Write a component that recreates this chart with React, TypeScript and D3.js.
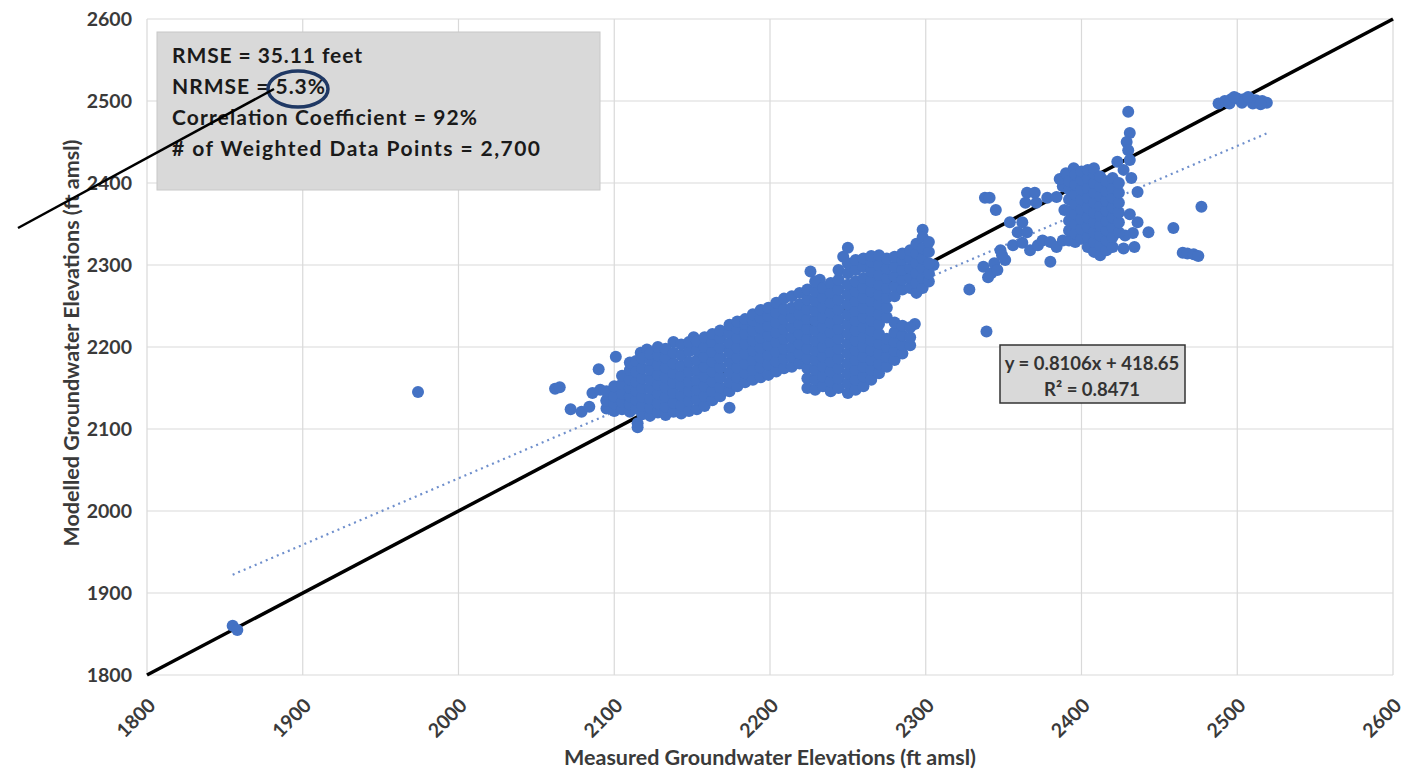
import React from "react";
import * as d3 from "d3";

// ---- data ----
const axisTicks = [1800, 1900, 2000, 2100, 2200, 2300, 2400, 2500, 2600];
const statLines = [
  "RMSE = 35.11 feet",
  "NRMSE = 5.3%",
  "Correlation Coefficient = 92%",
  "# of Weighted Data Points = 2,700",
];
const trendSlope = 0.8106;
const trendIntercept = 418.65;
const trendRange = [1855, 2520];
const equationLines = ["y = 0.8106x + 418.65", "R² = 0.8471"];

// isolated / sparse points [measured, modelled]
const outlierPoints: [number, number][] = [
  [1855, 1860], [1858, 1855], [1974, 2145],
  [2062, 2149], [2065, 2151], [2072, 2124], [2079, 2121], [2084, 2127],
  [2086, 2144], [2090, 2173], [2091, 2148], [2095, 2135], [2099, 2127],
  [2101, 2188], [2106, 2144], [2110, 2168], [2115, 2107], [2115, 2102],
  [2117, 2193], [2174, 2126], [2121, 2197], [2138, 2206], [2151, 2212],
  [2247, 2310], [2250, 2321], [2293, 2228], [2298, 2343], [2305, 2300],
  [2328, 2270], [2339, 2219], [2232, 2282], [2226, 2292],
];

// main band: each row is [measured, ...modelled values in that column]
const bandColumns: number[][] = [
  [2095, 2125, 2134, 2146],
  [2100, 2122, 2131, 2140, 2152],
  [2105, 2124, 2133, 2143, 2155, 2165],
  [2110, 2121, 2130, 2140, 2150, 2160, 2172, 2181],
  [2114, 2125, 2136, 2147, 2158, 2170, 2183],
  [2118, 2118, 2128, 2139, 2150, 2162, 2174, 2186],
  [2123, 2116, 2126, 2137, 2149, 2160, 2172, 2184, 2192],
  [2128, 2120, 2131, 2143, 2154, 2166, 2178, 2190, 2200],
  [2133, 2117, 2127, 2139, 2151, 2163, 2175, 2187, 2198],
  [2138, 2121, 2132, 2144, 2156, 2168, 2180, 2193],
  [2143, 2119, 2129, 2141, 2153, 2165, 2177, 2190, 2203],
  [2148, 2122, 2134, 2146, 2158, 2170, 2182, 2195, 2206],
  [2153, 2124, 2136, 2148, 2160, 2172, 2184, 2196, 2207],
  [2158, 2128, 2140, 2152, 2164, 2176, 2188, 2200, 2212],
  [2163, 2135, 2146, 2158, 2170, 2182, 2194, 2206, 2216],
  [2168, 2140, 2151, 2163, 2175, 2187, 2199, 2211, 2220],
  [2174, 2146, 2157, 2169, 2181, 2193, 2205, 2217, 2227],
  [2179, 2152, 2163, 2175, 2187, 2199, 2211, 2223, 2231],
  [2184, 2157, 2168, 2180, 2192, 2204, 2216, 2228, 2234],
  [2189, 2160, 2172, 2184, 2196, 2208, 2220, 2232, 2240],
  [2194, 2163, 2175, 2187, 2199, 2211, 2223, 2235, 2245],
  [2199, 2166, 2178, 2190, 2202, 2214, 2226, 2238, 2248],
  [2204, 2170, 2182, 2194, 2206, 2218, 2230, 2242, 2254],
  [2209, 2174, 2186, 2198, 2210, 2222, 2234, 2246, 2259],
  [2214, 2176, 2188, 2200, 2212, 2224, 2236, 2248, 2262],
  [2219, 2180, 2192, 2204, 2216, 2228, 2240, 2252, 2266],
  [2224, 2150, 2162, 2174, 2186, 2198, 2210, 2222, 2234, 2246, 2258, 2270],
  [2229, 2148, 2160, 2172, 2184, 2196, 2208, 2220, 2232, 2244, 2256, 2268, 2280],
  [2234, 2152, 2164, 2176, 2188, 2200, 2212, 2224, 2236, 2248, 2260, 2272],
  [2239, 2146, 2158, 2170, 2182, 2194, 2206, 2218, 2230, 2242, 2254, 2266, 2278],
  [2244, 2150, 2162, 2174, 2186, 2198, 2210, 2222, 2234, 2246, 2258, 2270, 2282, 2294],
  [2250, 2144, 2156, 2168, 2180, 2192, 2204, 2216, 2228, 2240, 2252, 2264, 2276, 2290, 2302],
  [2255, 2148, 2160, 2172, 2184, 2196, 2208, 2220, 2232, 2244, 2256, 2268, 2280, 2294, 2306],
  [2260, 2152, 2164, 2176, 2188, 2200, 2212, 2224, 2236, 2248, 2260, 2272, 2284, 2298, 2308],
  [2265, 2160, 2172, 2184, 2196, 2208, 2220, 2232, 2244, 2256, 2268, 2280, 2292, 2304, 2311],
  [2270, 2168, 2180, 2192, 2204, 2216, 2228, 2240, 2252, 2264, 2276, 2288, 2300, 2312],
  [2275, 2176, 2188, 2200, 2210, 2236, 2248, 2260, 2272, 2284, 2296, 2308],
  [2280, 2184, 2195, 2206, 2218, 2230, 2262, 2274, 2286, 2298, 2310],
  [2285, 2192, 2202, 2214, 2226, 2270, 2282, 2294, 2306, 2314],
  [2290, 2202, 2212, 2224, 2272, 2284, 2296, 2308, 2318],
  [2294, 2266, 2278, 2290, 2302, 2314, 2326],
  [2298, 2272, 2284, 2296, 2308, 2320, 2334],
  [2302, 2280, 2290, 2302, 2316, 2328],
];

// upper cluster around 2340-2480 measured
const upperPoints: [number, number][] = [
  [2338, 2382], [2341, 2382], [2345, 2367],
  [2337, 2298], [2340, 2285], [2342, 2290], [2348, 2318], [2351, 2306],
  [2344, 2302], [2346, 2294], [2349, 2312],
  [2356, 2324], [2359, 2340], [2354, 2352], [2362, 2352], [2365, 2340],
  [2362, 2327], [2367, 2318], [2372, 2324], [2375, 2330], [2380, 2328],
  [2384, 2322], [2388, 2330], [2380, 2304],
  [2365, 2388], [2370, 2388], [2364, 2376], [2371, 2376], [2378, 2382],
  [2384, 2383], [2389, 2367],
  [2423, 2426], [2427, 2416], [2430, 2487], [2431, 2461], [2429, 2450],
  [2430, 2440], [2431, 2428], [2432, 2406],
  [2427, 2320], [2434, 2322], [2433, 2339], [2436, 2389], [2436, 2352],
  [2443, 2340], [2459, 2345], [2477, 2371],
  [2465, 2315], [2468, 2314], [2472, 2313], [2475, 2311],
  [2418, 2367], [2422, 2350], [2428, 2336], [2431, 2362],
  [2388, 2396], [2386, 2405], [2390, 2412], [2395, 2418],
];

const denseColumns: number[][] = [
  [2392, 2330, 2342, 2354, 2366, 2380, 2392, 2402],
  [2396, 2328, 2338, 2350, 2362, 2374, 2386, 2398, 2410],
  [2400, 2332, 2344, 2356, 2368, 2380, 2392, 2404, 2414],
  [2404, 2322, 2334, 2346, 2358, 2370, 2382, 2394, 2406, 2416],
  [2408, 2316, 2328, 2340, 2352, 2364, 2376, 2388, 2400, 2412, 2418],
  [2412, 2312, 2324, 2336, 2348, 2360, 2372, 2384, 2396, 2408],
  [2416, 2318, 2330, 2342, 2354, 2366, 2378, 2390, 2402],
  [2420, 2322, 2334, 2346, 2358, 2370, 2382, 2394, 2406],
  [2424, 2340, 2352, 2364, 2376, 2388, 2400],
];

const topPoints: [number, number][] = [
  [2488, 2497], [2492, 2500], [2496, 2502], [2500, 2503], [2504, 2502],
  [2508, 2503], [2512, 2501], [2516, 2500], [2519, 2498], [2495, 2497],
  [2503, 2498], [2510, 2497], [2515, 2496], [2498, 2505], [2507, 2505],
];

// ---- layout ----
const W = 1405;
const H = 771;
const statWidths = [190, 153, 305, 368];

export default function App() {
  const x = d3.scaleLinear().domain([1800, 2600]).range([147, 1393]);
  const y = d3.scaleLinear().domain([1800, 2600]).range([675, 19]);

  const fromColumns = (cols: number[][]): [number, number][] =>
    cols.flatMap((c) => c.slice(1).map((v) => [c[0], v] as [number, number]));

  const allPoints: [number, number][] = [
    ...outlierPoints,
    ...fromColumns(bandColumns),
    ...upperPoints,
    ...fromColumns(denseColumns),
    ...topPoints,
  ];

  const font = "Lato, 'Open Sans', sans-serif";
  const textColor = "#3a3a3a";
  const line = d3.line<[number, number]>().x((d) => x(d[0])).y((d) => y(d[1]));
  const trend: [number, number][] = trendRange.map((m) => [m, trendSlope * m + trendIntercept]);

  return (
    <svg width={W} height={H} style={{ position: "absolute", left: 0, top: 0, background: "#fff" }}>
      <rect x={0} y={0} width={W} height={H} fill="#fff" />
      {/* gridlines */}
      {axisTicks.map((t) => (
        <line key={"gx" + t} x1={x(t)} x2={x(t)} y1={y(1800)} y2={y(2600)} stroke="#d9d9d9" strokeWidth={1.2} />
      ))}
      {axisTicks.map((t) => (
        <line key={"gy" + t} x1={x(1800)} x2={x(2600)} y1={y(t)} y2={y(t)} stroke="#d9d9d9" strokeWidth={1.2} />
      ))}

      {/* 1:1 line */}
      <path d={line([[1800, 1800], [2600, 2600]]) || ""} stroke="#000" strokeWidth={3.5} fill="none" />
      {/* trendline */}
      <path d={line(trend) || ""} stroke="#6f8fcc" strokeWidth={2.2} strokeDasharray="2 4" fill="none" />

      {/* points */}
      {allPoints.map((p, i) => (
        <circle key={i} cx={x(p[0])} cy={y(p[1])} r={6} fill="#4472c4" />
      ))}

      {/* y tick labels */}
      {axisTicks.map((t) => (
        <text key={"ty" + t} x={132} y={y(t)} dy="0.35em" textAnchor="end" fontFamily={font} fontWeight={700} fontSize={19.5} fill={textColor}>
          {t}
        </text>
      ))}
      {/* x tick labels */}
      {axisTicks.map((t) => (
        <text
          key={"tx" + t}
          transform={`translate(${x(t) + 5},${y(1800) + 27}) rotate(-45)`}
          textAnchor="end"
          dy="0.35em"
          fontFamily={font}
          fontWeight={700}
          fontSize={19.5}
          fill={textColor}
        >
          {t}
        </text>
      ))}

      {/* axis titles */}
      <text x={770} y={765} textAnchor="middle" fontFamily={font} fontWeight={700} fontSize={21.5} fill={textColor}>
        Measured Groundwater Elevations (ft amsl)
      </text>
      <text transform={`translate(79,343) rotate(-90)`} textAnchor="middle" fontFamily={font} fontWeight={700} fontSize={21.5} fill={textColor}>
        Modelled Groundwater Elevations (ft amsl)
      </text>

      {/* stats box */}
      <rect x={157} y={32} width={443} height={158} fill="#d9d9d9" stroke="#c8c8c8" strokeWidth={1} />
      {statLines.map((s, i) => (
        <text
          key={s}
          x={172}
          y={63 + i * 31}
          fontFamily={font}
          fontWeight={700}
          fontSize={21}
          fill="#1a1a1a"
          textLength={statWidths[i]}
          lengthAdjust="spacing"
        >
          {s}
        </text>
      ))}
      <ellipse cx={298} cy={89} rx={30} ry={18} fill="none" stroke="#1f3864" strokeWidth={3.5} />
      <line x1={18} y1={228} x2={274} y2={89} stroke="#000" strokeWidth={2.5} />

      {/* equation box */}
      <rect x={1000} y={345} width={185} height={58} fill="#d9d9d9" stroke="#333" strokeWidth={1.5} />
      {equationLines.map((s, i) => (
        <text key={s} x={1092} y={370 + i * 26} textAnchor="middle" fontFamily={font} fontWeight={700} fontSize={18.5} fill="#333">
          {s}
        </text>
      ))}
    </svg>
  );
}
